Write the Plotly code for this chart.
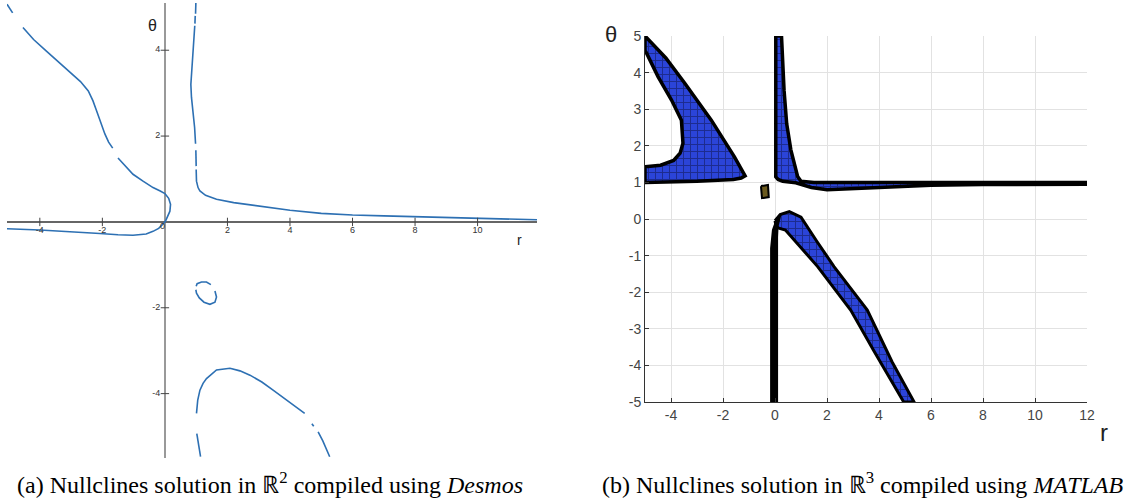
import plotly.graph_objects as go

# ---------------- data: left panel (Desmos) ----------------
curveA_r = [-5.05, -4.87, None,
            -4.54, -4.2, -3.79, -3.4, -3.04, -2.7, -2.45, -2.3, -2.18, -2.05, -1.92, -1.8, -1.67, None,
            -1.5, -1.25, -1.02, -0.7, -0.38, -0.15, 0.0, 0.12, 0.18, 0.16, 0.1, 0.02, -0.06, -0.2, -0.38,
            -0.6, -1.02, -1.5, -2.08, -3.0, -4.0, -5.05]
curveA_t = [5.07, 4.87, None,
            4.53, 4.25, 3.98, 3.73, 3.51, 3.27, 3.05, 2.82, 2.58, 2.3, 2.05, 1.86, 1.72, None,
            1.49, 1.28, 1.11, 0.95, 0.8, 0.72, 0.66, 0.55, 0.41, 0.25, 0.13, 0.02, -0.05, -0.15, -0.22,
            -0.28, -0.31, -0.3, -0.27, -0.23, -0.19, -0.16]

curveB_r = [0.99, 0.98, None, 0.97, 0.96, None,
            0.955, 0.92, 0.9, 0.86, 0.83, 0.85, 0.9, 0.95, 0.98, None,
            0.99, 1.0, None,
            1.0, 1.01, 1.06, 1.12, 1.3, 1.65, 2.2, 2.7, 3.67, 4.0, 5.0, 6.0, 7.0, 8.0, 9.0, 10.0, 11.0, 11.9]
curveB_t = [5.1, 4.85, None, 4.8, 4.62, None,
            4.57, 4.2, 3.98, 3.6, 3.2, 2.9, 2.58, 2.2, 1.82, None,
            1.67, 1.3, None,
            1.22, 0.95, 0.8, 0.72, 0.62, 0.53, 0.45, 0.4, 0.3, 0.27, 0.2, 0.16, 0.14, 0.12, 0.1, 0.08, 0.065, 0.05]

curveC_r = [1.0, 1.03, 1.17, 1.33, 1.47, None, 1.6, 1.65, 1.6, 1.44, 1.25, 1.1, 1.01, 0.99]
curveC_t = [-1.5, -1.44, -1.40, -1.40, -1.46, None, -1.61, -1.75, -1.87, -1.92, -1.87, -1.77, -1.66, -1.58]

curveD_r = [1.14, 1.08, 1.02, None,
            1.01, 1.05, 1.12, 1.22, 1.33, 1.65, 2.08, 2.4, 2.72, 3.1, 3.46, 4.0, 4.47, None,
            4.7, 4.76, None,
            4.9, 5.05, 5.27]
curveD_t = [-5.47, -5.2, -4.93, None,
            -4.46, -4.15, -3.92, -3.76, -3.65, -3.45, -3.41, -3.47, -3.57, -3.73, -3.92, -4.2, -4.46, None,
            -4.7, -4.76, None,
            -4.89, -5.1, -5.47]

left_xticks = [-4, -2, 2, 4, 6, 8, 10]
left_yticks = [4, 2, -2, -4]

# ---------------- data: right panel (MATLAB) ----------------
wedge_r = [-5.0, -4.2, -3.47, -2.45, -1.56, -1.2, -1.15, -1.3, -1.6, -3.0, -5.0, -5.0,
           -4.4, -3.9, -3.65, -3.54, -3.6, -3.98, -4.5, -4.94, -5.0, -5.0]
wedge_t = [5.0, 4.4, 3.71, 2.7, 1.7, 1.25, 1.18, 1.12, 1.08, 1.03, 1.0, 1.43,
           1.47, 1.6, 1.8, 2.07, 2.7, 3.25, 3.89, 4.53, 4.6, 5.0]

spike_r = [0.03, 0.03, 0.12, 0.3, 0.8, 1.1, 1.4, 2.0, 3.0, 4.2, 6.0, 8.0, 12.05, 12.05, 8.0, 4.0,
           1.5, 1.0, 0.87, 0.61, 0.45, 0.35, 0.25, 0.03]
spike_t = [5.0, 1.15, 1.08, 1.03, 0.99, 0.92, 0.86, 0.8, 0.83, 0.88, 0.92, 0.94, 0.95, 1.0, 1.0, 1.0,
           1.0, 1.03, 1.16, 1.89, 2.6, 3.5, 5.0, 5.0]

square_r = [-0.54, -0.27, -0.24, -0.5, -0.54]
square_t = [0.9, 0.93, 0.6, 0.57, 0.9]

bar_r = [-0.15, -0.17, -0.15, -0.08, 0.05, 0.2, 0.1, 0.08, 0.08, -0.15]
bar_t = [-5.0, -2.0, -0.8, -0.3, -0.05, 0.1, -0.2, -0.5, -5.0, -5.0]

band_r = [0.0, 0.2, 0.55, 1.0, 1.6, 2.27, 3.55, 4.5, 5.35, 4.95, 3.8, 2.91, 1.64, 0.9, 0.61, 0.4, 0.15, 0.05, 0.0]
band_t = [-0.05, 0.12, 0.2, 0.05, -0.6, -1.3, -2.49, -3.9, -5.0, -5.0, -3.6, -2.49, -1.3, -0.7, -0.48, -0.3, -0.25, -0.2, -0.05]

right_xticks = [-4, -2, 0, 2, 4, 6, 8, 10, 12]
right_yticks = [-5, -4, -3, -2, -1, 0, 1, 2, 3, 4, 5]

# ---------------- figure ----------------
fig = go.Figure()
DES = "#2d70b3"

for rr, tt in [(curveA_r, curveA_t), (curveB_r, curveB_t), (curveC_r, curveC_t), (curveD_r, curveD_t)]:
    fig.add_trace(go.Scatter(x=rr, y=tt, mode="lines", line=dict(color=DES, width=1.6),
                             xaxis="x", yaxis="y", hoverinfo="skip", showlegend=False))

# tick marks and labels on left panel (crossing axes)
fig.add_trace(go.Scatter(x=left_xticks, y=[0] * len(left_xticks), mode="markers+text",
                         marker=dict(symbol="line-ns", size=6, line=dict(width=1, color="#444")),
                         text=[str(v) for v in left_xticks], textposition="bottom center",
                         textfont=dict(size=9, color="#333", family="Arial"),
                         xaxis="x", yaxis="y", hoverinfo="skip", showlegend=False))
fig.add_trace(go.Scatter(x=[0] * len(left_yticks), y=left_yticks, mode="markers+text",
                         marker=dict(symbol="line-ew", size=6, line=dict(width=1, color="#444")),
                         text=[str(v) for v in left_yticks], textposition="middle left",
                         textfont=dict(size=9, color="#333", family="Arial"),
                         xaxis="x", yaxis="y", hoverinfo="skip", showlegend=False))
fig.add_trace(go.Scatter(x=[0], y=[0], mode="text", text=["0"], textposition="bottom left",
                         textfont=dict(size=9, color="#333", family="Arial"),
                         xaxis="x", yaxis="y", hoverinfo="skip", showlegend=False))

# right panel shapes
BLUE = "#2b44d8"
pat = dict(shape="+", bgcolor=BLUE, fgcolor="#0d1040", size=7, solidity=0.25)
fig.add_trace(go.Scatter(x=wedge_r, y=wedge_t, mode="lines", fill="toself", fillcolor=BLUE,
                         fillpattern=pat, line=dict(color="black", width=3.5),
                         xaxis="x2", yaxis="y2", hoverinfo="skip", showlegend=False))
fig.add_trace(go.Scatter(x=spike_r, y=spike_t, mode="lines", fill="toself", fillcolor=BLUE,
                         fillpattern=pat, line=dict(color="black", width=3.5),
                         xaxis="x2", yaxis="y2", hoverinfo="skip", showlegend=False))
fig.add_trace(go.Scatter(x=square_r, y=square_t, mode="lines", fill="toself", fillcolor="#6b5a1e",
                         line=dict(color="black", width=2),
                         xaxis="x2", yaxis="y2", hoverinfo="skip", showlegend=False))
fig.add_trace(go.Scatter(x=band_r, y=band_t, mode="lines", fill="toself", fillcolor=BLUE,
                         fillpattern=pat, line=dict(color="black", width=3),
                         xaxis="x2", yaxis="y2", hoverinfo="skip", showlegend=False))
fig.add_trace(go.Scatter(x=bar_r, y=bar_t, mode="lines", fill="toself", fillcolor="black",
                         line=dict(color="black", width=2),
                         xaxis="x2", yaxis="y2", hoverinfo="skip", showlegend=False))

W, H = 1130, 499
fig.update_layout(
    width=W, height=H, margin=dict(l=0, r=0, t=0, b=0, autoexpand=False),
    paper_bgcolor="white", plot_bgcolor="white",
    xaxis=dict(domain=[7 / W, 537 / W], range=[-5.05, 11.9], showgrid=False, showticklabels=False,
               zeroline=True, zerolinecolor="#999", zerolinewidth=1.5, showline=False, ticks="",
               automargin=False),
    yaxis=dict(domain=[1 - 458 / H, 1 - 3 / H], range=[-5.5, 5.1], showgrid=False, showticklabels=False,
               zeroline=True, zerolinecolor="#666", zerolinewidth=1.5, showline=False, ticks="",
               automargin=False),
    xaxis2=dict(domain=[645 / W, 1087 / W], range=[-5, 12], tickvals=right_xticks,
                ticktext=[str(v) for v in right_xticks],
                showgrid=True, gridcolor="#e2e2e2", zeroline=False, showline=True, linecolor="#333",
                ticks="inside", ticklen=4, tickcolor="#333", automargin=False,
                tickfont=dict(size=14, color="#444", family="Arial"), anchor="y2"),
    yaxis2=dict(domain=[1 - 402 / H, 1 - 36 / H], range=[-5, 5], tickvals=right_yticks,
                ticktext=[str(v) for v in right_yticks],
                showgrid=True, gridcolor="#e2e2e2", zeroline=False, showline=True, linecolor="#333",
                ticks="inside", ticklen=4, tickcolor="#333", automargin=False,
                tickfont=dict(size=14, color="#444", family="Arial"), anchor="x2"),
)

anns = [
    dict(text="θ", x=152 / W, y=1 - 25 / H, font=dict(size=16, color="#222", family="Arial")),
    dict(text="r", x=519 / W, y=1 - 240 / H, font=dict(size=14, color="#222", family="Arial")),
    dict(text="θ", x=611 / W, y=1 - 35 / H, font=dict(size=22, color="#222", family="Arial")),
    dict(text="r", x=1104 / W, y=1 - 432 / H, font=dict(size=24, color="#222", family="Arial")),
    dict(text="(a) Nullclines solution in ℝ<sup>2</sup> compiled using <i>Desmos</i>",
         x=270 / W, y=1 - 483 / H, font=dict(size=24, color="black", family="Liberation Serif")),
    dict(text="(b) Nullclines solution in ℝ<sup>3</sup> compiled using <i>MATLAB</i>",
         x=862 / W, y=1 - 483 / H, font=dict(size=24, color="black", family="Liberation Serif")),
]
for a in anns:
    fig.add_annotation(xref="paper", yref="paper", showarrow=False, xanchor="center", yanchor="middle", **a)

fig.write_html("out.html", config={"displayModeBar": False},
               post_script="document.body.style.margin='0';document.body.style.overflow='hidden';")
